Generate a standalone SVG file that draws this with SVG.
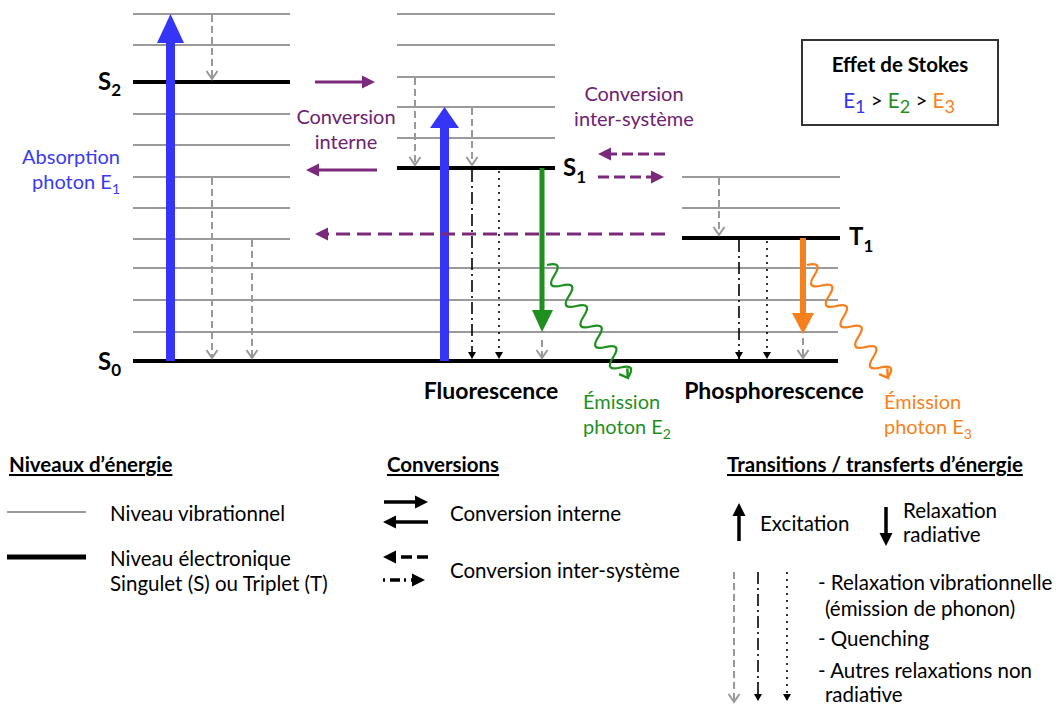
<svg xmlns="http://www.w3.org/2000/svg" width="1057" height="706" viewBox="0 0 1057 706">
<defs>
<style>
.vib{stroke:#9a9a9a;stroke-width:2}
.ele{stroke:#000;stroke-width:4}
.t{font-family:Lato,"Liberation Sans",sans-serif;font-size:20.5px}
.m{font-size:20px}
.b{font-weight:bold}
.big{font-size:23px;font-weight:bold}
.lvl{font-size:24px;font-weight:bold}
.gd{stroke:#999;stroke-width:2;stroke-dasharray:7 4;fill:none}
.dd{stroke:#000;stroke-width:1.6;stroke-dasharray:12 4 2 4;fill:none}
.dt{stroke:#000;stroke-width:1.6;stroke-dasharray:2 5;fill:none}
.pu{stroke:#7b2a7b;stroke-width:3;fill:none}
.pdl{stroke:#7b2a7b;stroke-width:3;fill:none;stroke-dasharray:14 7}
.pds{stroke:#7b2a7b;stroke-width:3;fill:none;stroke-dasharray:11 5}
.bk{stroke:#000;stroke-width:3.5;fill:none}
.ptxt{fill:#6e2270}
</style>
<marker id="gh" markerUnits="userSpaceOnUse" viewBox="-10 -7 12 14" markerWidth="12" markerHeight="14" refX="0" refY="0" orient="auto"><path d="M-8,-5.5 L0,0 L-8,5.5" fill="none" stroke="#999" stroke-width="2"/></marker>
<marker id="bh" markerUnits="userSpaceOnUse" viewBox="-8 -5 9 10" markerWidth="9" markerHeight="10" refX="0" refY="0" orient="auto"><path d="M-7,-4 L0,0 L-7,4 z" fill="#000"/></marker>
<marker id="ph" markerUnits="userSpaceOnUse" viewBox="-13 -7 14 14" markerWidth="14" markerHeight="14" refX="-8" refY="0" orient="auto"><path d="M-13,-6.5 L0,0 L-13,6.5 z" fill="#7b2a7b"/></marker>
<marker id="kh" markerUnits="userSpaceOnUse" viewBox="-13 -7 14 14" markerWidth="14" markerHeight="14" refX="-8" refY="0" orient="auto"><path d="M-13,-6.5 L0,0 L-13,6.5 z" fill="#000"/></marker>
</defs>
<rect width="1057" height="706" fill="#fff"/>

<g id="vibrational-levels">
<g id="vib-left">
<line class="vib" x1="133" y1="14" x2="290" y2="14"/>
<line class="vib" x1="133" y1="45" x2="290" y2="45"/>
<line class="vib" x1="133" y1="114" x2="290" y2="114"/>
<line class="vib" x1="133" y1="145" x2="290" y2="145"/>
<line class="vib" x1="133" y1="177" x2="290" y2="177"/>
<line class="vib" x1="133" y1="208" x2="290" y2="208"/>
<line class="vib" x1="133" y1="239" x2="290" y2="239"/>
</g>
<g id="vib-s0">
<line class="vib" x1="133" y1="268" x2="838" y2="268"/>
<line class="vib" x1="133" y1="300" x2="838" y2="300"/>
<line class="vib" x1="133" y1="332" x2="838" y2="332"/>
</g>
<g id="vib-s1">
<line class="vib" x1="397" y1="14" x2="555" y2="14"/>
<line class="vib" x1="397" y1="45" x2="555" y2="45"/>
<line class="vib" x1="397" y1="77" x2="555" y2="77"/>
<line class="vib" x1="397" y1="107" x2="555" y2="107"/>
<line class="vib" x1="397" y1="138" x2="555" y2="138"/>
</g>
<g id="vib-t1">
<line class="vib" x1="682" y1="177" x2="840" y2="177"/>
<line class="vib" x1="682" y1="208" x2="840" y2="208"/>
</g>
</g>

<g id="S2">
<line class="ele" x1="133" y1="82" x2="290" y2="82"/>
<text class="t lvl" x="98" y="90">S<tspan font-size="17" dy="6">2</tspan></text>
</g>
<g id="S1">
<line class="ele" x1="397" y1="168" x2="555" y2="168"/>
<text class="t lvl" x="563" y="176">S<tspan font-size="17" dy="7">1</tspan></text>
</g>
<g id="T1">
<line class="ele" x1="682" y1="238" x2="840" y2="238"/>
<text class="t lvl" x="849" y="245">T<tspan font-size="17" dy="7">1</tspan></text>
</g>
<g id="S0">
<line class="ele" x1="133" y1="361" x2="838" y2="361"/>
<text class="t lvl" x="98" y="370">S<tspan font-size="17" dy="6">0</tspan></text>
</g>

<g id="stokes-box">
<rect x="802" y="40" width="196" height="85" fill="#fff" stroke="#333" stroke-width="2"/>
<text class="t b" x="900" y="72" text-anchor="middle" font-size="20">Effet de Stokes</text>
<text class="t" x="899" y="108" text-anchor="middle" font-size="27"><tspan fill="#3535f0">E<tspan font-size="18" dy="5">1</tspan></tspan><tspan dy="-5" fill="#000"> &gt; </tspan><tspan fill="#1f8f1f">E<tspan font-size="18" dy="5">2</tspan></tspan><tspan dy="-5" fill="#000"> &gt; </tspan><tspan fill="#f58220">E<tspan font-size="18" dy="5">3</tspan></tspan></text>
</g>

<g id="connectors">
<!-- absorption arrows -->
<rect x="166" y="40" width="9" height="321" fill="#3535f8"/>
<polygon points="157,43 170.5,14 184,43" fill="#3535f8"/>
<rect x="440" y="125" width="9" height="236" fill="#3535f8"/>
<polygon points="430,128 444.5,107 459,128" fill="#3535f8"/>
<!-- fluorescence / phosphorescence -->
<rect x="539.5" y="168" width="5" height="144" fill="#1f8f1f"/>
<polygon points="532,310 542,332 553,310" fill="#1f8f1f"/>
<rect x="800" y="238" width="6" height="77" fill="#f7801e"/>
<polygon points="792,313 803,334 814,313" fill="#f7801e"/>
<!-- photon emission waves -->
<path d="M547,265 q16.68,-4.21 7.35,10.25 t7.35,10.25 t7.35,10.25 t7.35,10.25 t7.35,10.25 t7.35,10.25 t7.35,10.25 t7.35,10.25 t7.35,10.25 t7.35,10.25 t7.35,10.25" fill="none" stroke="#1f8f1f" stroke-width="2.3"/>
<path d="M627.3,368.3 L627.9,377.8 L619.1,374.2" fill="none" stroke="#1f8f1f" stroke-width="2.5"/>
<path d="M807,265 q16.68,-4.21 7.35,10.25 t7.35,10.25 t7.35,10.25 t7.35,10.25 t7.35,10.25 t7.35,10.25 t7.35,10.25 t7.35,10.25 t7.35,10.25 t7.35,10.25 t7.35,10.25" fill="none" stroke="#f7801e" stroke-width="2.3"/>
<path d="M887.3,368.3 L887.9,377.8 L879.1,374.2" fill="none" stroke="#f7801e" stroke-width="2.5"/>
<!-- vibrational relaxation (gray dashed) -->
<line class="gd" x1="212" y1="15" x2="212" y2="79" marker-end="url(#gh)"/>
<line class="gd" x1="212" y1="178" x2="212" y2="358" marker-end="url(#gh)"/>
<line class="gd" x1="252" y1="240" x2="252" y2="358" marker-end="url(#gh)"/>
<line class="gd" x1="415" y1="78" x2="415" y2="165" marker-end="url(#gh)"/>
<line class="gd" x1="472" y1="108" x2="472" y2="165" marker-end="url(#gh)"/>
<line class="gd" x1="542" y1="340" x2="542" y2="358" marker-end="url(#gh)"/>
<line class="gd" x1="719" y1="178" x2="719" y2="235" marker-end="url(#gh)"/>
<line class="gd" x1="803" y1="338" x2="803" y2="358" marker-end="url(#gh)"/>
<!-- quenching / non radiative -->
<line class="dd" x1="472" y1="170" x2="472" y2="359" marker-end="url(#bh)"/>
<line class="dt" x1="499" y1="171" x2="499" y2="359" marker-end="url(#bh)"/>
<line class="dd" x1="739" y1="240" x2="739" y2="359" marker-end="url(#bh)"/>
<line class="dt" x1="767" y1="241" x2="767" y2="359" marker-end="url(#bh)"/>
<!-- internal conversion -->
<line class="pu" x1="315" y1="82" x2="367" y2="82" marker-end="url(#ph)"/>
<line class="pu" x1="377" y1="170" x2="314" y2="170" marker-end="url(#ph)"/>
<!-- intersystem crossing -->
<line class="pdl" x1="665" y1="234" x2="323" y2="234" marker-end="url(#ph)"/>
<line class="pds" x1="665" y1="154" x2="606" y2="154" marker-end="url(#ph)"/>
<line class="pds" x1="598" y1="177" x2="656" y2="177" marker-end="url(#ph)"/>
</g>

<g id="labels">
<text class="t m" x="120" y="164" text-anchor="end" fill="#3a3af0">Absorption</text>
<text class="t m" x="120" y="189" text-anchor="end" fill="#3a3af0">photon E<tspan font-size="14" dy="5">1</tspan></text>
<text class="t m ptxt" x="346" y="124" text-anchor="middle">Conversion</text>
<text class="t m ptxt" x="346" y="149" text-anchor="middle">interne</text>
<text class="t m ptxt" x="634" y="101" text-anchor="middle">Conversion</text>
<text class="t m ptxt" x="634" y="126" text-anchor="middle">inter-système</text>
<text class="t big" x="491" y="399" text-anchor="middle">Fluorescence</text>
<text class="t big" x="774" y="399" text-anchor="middle">Phosphorescence</text>
<text class="t m" x="583" y="409" fill="#1f8f1f">Émission</text>
<text class="t m" x="583" y="434" fill="#1f8f1f">photon E<tspan font-size="14" dy="5">2</tspan></text>
<text class="t m" x="884" y="409" fill="#f58220">Émission</text>
<text class="t m" x="884" y="434" fill="#f58220">photon E<tspan font-size="14" dy="5">3</tspan></text>
</g>

<g id="legend-levels">
<text class="t b" x="9" y="472" text-decoration="underline">Niveaux d’énergie</text>
<line class="vib" x1="7" y1="512" x2="86" y2="512"/>
<line x1="7" y1="557" x2="86" y2="557" stroke="#000" stroke-width="5"/>
<text class="t" x="110" y="521">Niveau vibrationnel</text>
<text class="t" x="110" y="566">Niveau électronique</text>
<text class="t" x="110" y="591">Singulet (S) ou Triplet (T)</text>
</g>

<g id="legend-conversions">
<text class="t b" x="387" y="472" text-decoration="underline">Conversions</text>
<line class="bk" x1="384" y1="502" x2="420" y2="502" marker-end="url(#kh)"/>
<line class="bk" x1="428" y1="522" x2="391" y2="522" marker-end="url(#kh)"/>
<line class="bk" x1="428" y1="557" x2="391" y2="557" stroke-dasharray="11 5" marker-end="url(#kh)"/>
<line class="bk" x1="383" y1="580" x2="417" y2="580" stroke-dasharray="2 5 10 4" marker-end="url(#kh)"/>
<text class="t" x="450" y="521">Conversion interne</text>
<text class="t" x="450" y="578">Conversion inter-système</text>
</g>

<g id="legend-transitions">
<text class="t b" x="727" y="472" text-decoration="underline">Transitions / transferts d’énergie</text>
<line class="bk" x1="739" y1="541" x2="739" y2="511" marker-end="url(#kh)"/>
<text class="t" x="760" y="531">Excitation</text>
<line class="bk" x1="886" y1="507" x2="886" y2="538" marker-end="url(#kh)"/>
<text class="t" x="903" y="518">Relaxation</text>
<text class="t" x="903" y="542">radiative</text>
<line class="gd" x1="734" y1="572" x2="734" y2="702" marker-end="url(#gh)"/>
<line class="dd" x1="758" y1="572" x2="758" y2="701" marker-end="url(#bh)"/>
<line class="dt" x1="787" y1="572" x2="787" y2="701" marker-end="url(#bh)"/>
<text class="t" x="818" y="590">- Relaxation vibrationnelle</text>
<text class="t" x="825" y="616">(émission de phonon)</text>
<text class="t" x="818" y="646">- Quenching</text>
<text class="t" x="818" y="678">- Autres relaxations non</text>
<text class="t" x="825" y="702">radiative</text>
</g>
</svg>
